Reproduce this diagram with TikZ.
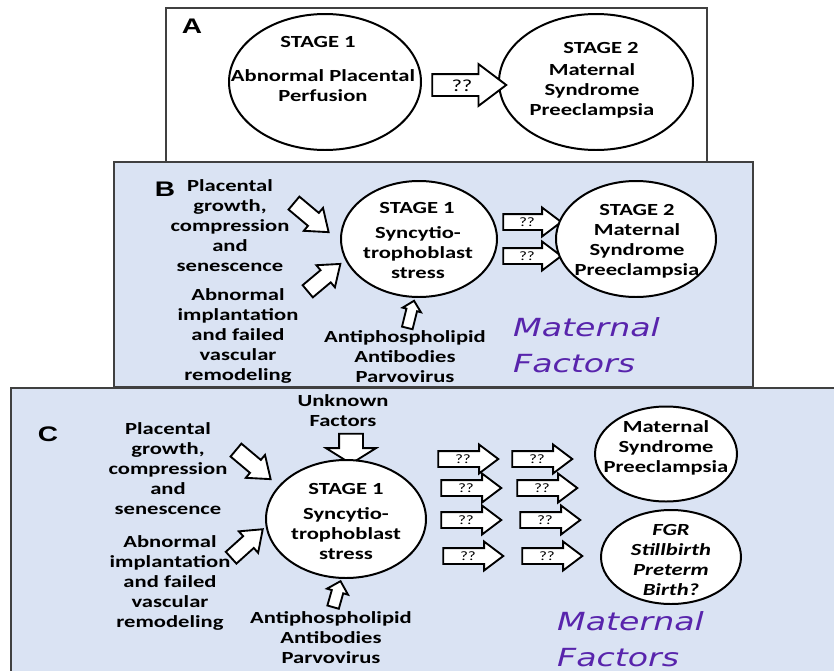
\documentclass[tikz,border=0pt]{standalone}
\usepackage{fontspec}
\setmainfont{Carlito}[FakeStretch=1.33]
\newfontfamily\panelfont{Liberation Sans}[FakeStretch=1.33]
\newfontfamily\matfont{DejaVu Sans}[FakeStretch=1.33]
\usepackage{tikz}
\usetikzlibrary{shapes.geometric,shapes.arrows}

\definecolor{panelblue}{RGB}{218,227,243}
\definecolor{panelgray}{RGB}{64,64,64}
\definecolor{matviolet}{RGB}{88,36,172}
\def\pxu{0.03cm}

\begin{document}
\begin{tikzpicture}[x=0.03cm,y=-0.03cm,
    every node/.style={inner sep=0pt,font=\fontsize{14.5}{17.07}\selectfont\bfseries},
    panel/.style={draw=panelgray,line width=1.2pt},
    stage/.style n args={2}{ellipse,draw,line width=1.7pt,fill=white,
      minimum width=#1*\pxu,minimum height=#2*\pxu},
    blurb/.style={align=center},
    letter/.style={font=\panelfont\bfseries\fontsize{18}{20}\selectfont},
    factors/.style={align=left,text=matviolet,
      font=\matfont\itshape\fontsize{21.3}{30.3}\selectfont},
    % length, head width, shaft width
    blk/.style n args={3}{single arrow,draw,fill=white,line width=1.6pt,
      minimum height=#1*\pxu,minimum width=#2*\pxu,
      inner xsep=0pt,inner ysep=#3/2*\pxu,
      single arrow head extend={(#2-#3)/2*\pxu}},
    tilt/.style={rotate=#1,xscale=1.33},
    qq/.style={blk={#1}{27}{14},single arrow tip angle=74,
      inner ysep=3*\pxu,text height=8*\pxu,text depth=0pt,
      font=\fontsize{11}{12}\selectfont\mdseries}]
  \useasboundingbox (0,0) rectangle (834,671);
  \clip (0,0) rectangle (834,671);

  % panel A
  \draw[panel,fill=white] (166,8) rectangle (707,162);
  \node[letter] (labA) at (192,26) {A};
  \node[stage={192}{136}] (s1a) at (325,82) {};
  \node (s1atitle) at (318,42) {STAGE 1};
  \node[blurb] (s1atext) at (323,86) {Abnormal Placental\\Perfusion};
  \node[stage={194}{136}] (s2a) at (596,82) {};
  \node (s2atitle) at (601,48) {STAGE 2};
  \node[blurb] (s2atext) at (592,91) {Maternal\\Syndrome\\Preeclampsia};
  \node[blk={74}{40}{20},single arrow tip angle=74,
    inner ysep=4*\pxu,text height=12*\pxu,text depth=0pt,
    font=\fontsize{14.5}{17}\selectfont\mdseries] (qa) at (462,85) {??};

  % panel B
  \draw[panel,fill=panelblue] (114,162) rectangle (753,387);
  \node[letter] (labB) at (165,189) {B};
  \node[blurb] (growb) at (230,226) {Placental\\growth,\\compression\\and\\senescence};
  \node[blurb] (implb) at (238,336) {Abnormal\\implantation\\and failed\\vascular\\remodeling};
  \node[blk={34}{28}{15},tilt=-40] (inb1) at (307,214) {};
  \node[blk={32}{27}{14},tilt=40] (inb2) at (320,281) {};
  \node[stage={156}{116}] (s1b) at (419,239) {};
  \node (s1btitle) at (417,208) {STAGE 1};
  \node[blurb] (s1btext) at (418,253) {Syncytio-\\trophoblast\\stress};
  \node[qq=58] (qb1) at (527,222) {??};
  \node[qq=58] (qb2) at (527,256) {??};
  \node[stage={160}{116}] (s2b) at (636,239) {};
  \node[blurb] (s2btext) at (637,241) {STAGE 2\\Maternal\\Syndrome\\Preeclampsia};
  \node[blk={28}{17}{9},rotate=76] (upb) at (410,317) {};
  \node[blurb] (apab) at (405,357) {Antiphospholipid\\Antibodies\\Parvovirus};
  \node[factors,anchor=west] (matb) at (513,345) {Maternal\\Factors};

  % panel C
  \draw[panel,fill=panelblue] (11,388) rectangle (850,690);
  \node[letter] (labC) at (48,434) {C};
  \node[blurb] (growc) at (168,469) {Placental\\growth,\\compression\\and\\senescence};
  \node[blurb] (implc) at (170,583) {Abnormal\\implantation\\and failed\\vascular\\remodeling};
  \node[blurb] (unkc) at (343,411) {Unknown\\Factors};
  \node[blk={30}{48}{22},rotate=-90,single arrow tip angle=116] (downc) at (351,445) {};
  \node[blk={34}{28}{15},tilt=-40] (inc1) at (249,461) {};
  \node[blk={32}{27}{14},tilt=42] (inc2) at (243,547) {};
  \node[stage={160}{118}] (s1c) at (346,519) {};
  \node (s1ctitle) at (346,489) {STAGE 1};
  \node[blurb] (s1ctext) at (346,534) {Syncytio-\\trophoblast\\stress};
  \node[blk={27}{20}{10},rotate=74] (upc) at (336,597) {};
  \node[blurb] (apac) at (331,638) {Antiphospholipid\\Antibodies\\Parvovirus};
  % ?? arrows
  \node[qq=60] (qc11) at (463,459) {??};
  \node[qq=60] (qc21) at (466,488) {??};
  \node[qq=60] (qc31) at (466,520) {??};
  \node[qq=60] (qc41) at (468,556) {??};
  \node[qq=60] (qc12) at (537,459) {??};
  \node[qq=60] (qc22) at (542,488) {??};
  \node[qq=60] (qc32) at (545,520) {??};
  \node[qq=60] (qc42) at (547,556) {??};
  \node[stage={142}{95}] (s2c) at (666,454) {};
  \node[blurb] (s2ctext) at (666,448) {Maternal\\Syndrome\\Preeclampsia};
  \node[stage={140}{94}] (s3c) at (671,557) {};
  \node[blurb,font=\fontsize{14.5}{17.07}\selectfont\bfseries\itshape] (s3ctext)
    at (671,560) {FGR\\Stillbirth\\Preterm\\Birth?};
  \node[factors,anchor=west] (matc) at (557,639) {Maternal\\Factors};
\end{tikzpicture}
\end{document}
